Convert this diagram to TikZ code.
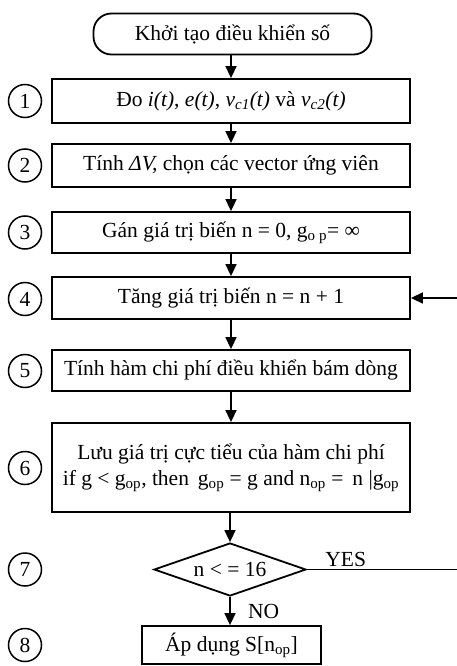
\documentclass[tikz,border=0pt]{standalone}
\usepackage{fontspec}
\setmainfont{Liberation Serif}
\usetikzlibrary{arrows.meta,positioning,shapes.geometric}
\tikzset{
procbox/.style = {draw, line width=1.8pt, minimum width=358pt, align=center,
                  inner sep=2pt},
termbox/.style = {draw, line width=1.8pt, rounded corners=18pt,
                  minimum width=278pt, minimum height=41pt},
decbox/.style  = {draw, line width=1.8pt, diamond, aspect=2.87,
                  minimum width=152pt, minimum height=53pt, inner sep=0pt},
stepnum/.style = {draw, circle, line width=1.5pt, minimum size=33pt, inner sep=0pt},
flowarrow/.style = {-{Triangle[length=12pt,width=11pt]}, line width=1.6pt}
}
\begin{document}
\begin{tikzpicture}[x=1pt,y=-1pt,font=\fontsize{21.5}{26}\selectfont]
  \useasboundingbox (0,0) rectangle (457,666);
  % main column
  \node[termbox] (start) at (232.5,34) {Khởi tạo điều khiển số};
  \node[procbox, minimum height=44pt] (b1) at (231,101)
    {Đo \textit{i(t)}, \textit{e(t)}, \textit{v}\textsubscript{\textit{c1}}\textit{(t)} và \textit{v}\textsubscript{\textit{c2}}\textit{(t)}};
  \node[procbox, minimum height=43pt] (b2) at (231,165.5)
    {Tính \textit{ΔV,} chọn các vector ứng viên};
  \node[procbox, minimum height=41pt] (b3) at (231,232.5)
    {Gán giá trị biến n = 0, g\textsubscript{o p}= ∞};
  \node[procbox, minimum height=42pt] (b4) at (231,298)
    {Tăng giá trị biến n = n + 1};
  \node[procbox, minimum height=41pt] (b5) at (231,370.5)
    {Tính hàm chi phí điều khiển bám dòng};
  \node[procbox, minimum height=89pt] (b6) at (231,467.5)
    {Lưu giá trị cực tiểu của hàm chi phí\\
     if g < g\textsubscript{op}, then\, g\textsubscript{op} = g and n\textsubscript{op} = \,n |g\textsubscript{op}};
  \node[decbox] (dec) at (230,569.5) {n < = 16};
  \node[procbox, minimum width=179pt, minimum height=38pt] (b8) at (231.5,645)
    {Áp dụng S[n\textsubscript{op}]};

  % step numbers
  \foreach \n/\y in {1/101,2/165.5,3/232.5,4/299,5/371,6/468,7/569.5,8/645}
    \node[stepnum] (c\n) at (25,\y) {\n};

  % connectors
  \draw[flowarrow] (start.south -| b1.north) -- (b1);
  \draw[flowarrow] (b1) -- (b2);
  \draw[flowarrow] (b2) -- (b3);
  \draw[flowarrow] (b3) -- (b4);
  \draw[flowarrow] (b4) -- (b5);
  \draw[flowarrow] (b5) -- (b6);
  \draw[flowarrow] (b6.south -| dec.north) -- (dec.north);
  \draw[flowarrow] (dec.south) -- (dec.south |- b8.north)
    node[midway, right=14pt] {NO};
  \coordinate (loopc) at (462,569.5);
  \draw[flowarrow] (dec.east) -- node[pos=0.25, above=-1pt] {YES}
    (loopc) |- (b4.east);
\end{tikzpicture}
\end{document}
